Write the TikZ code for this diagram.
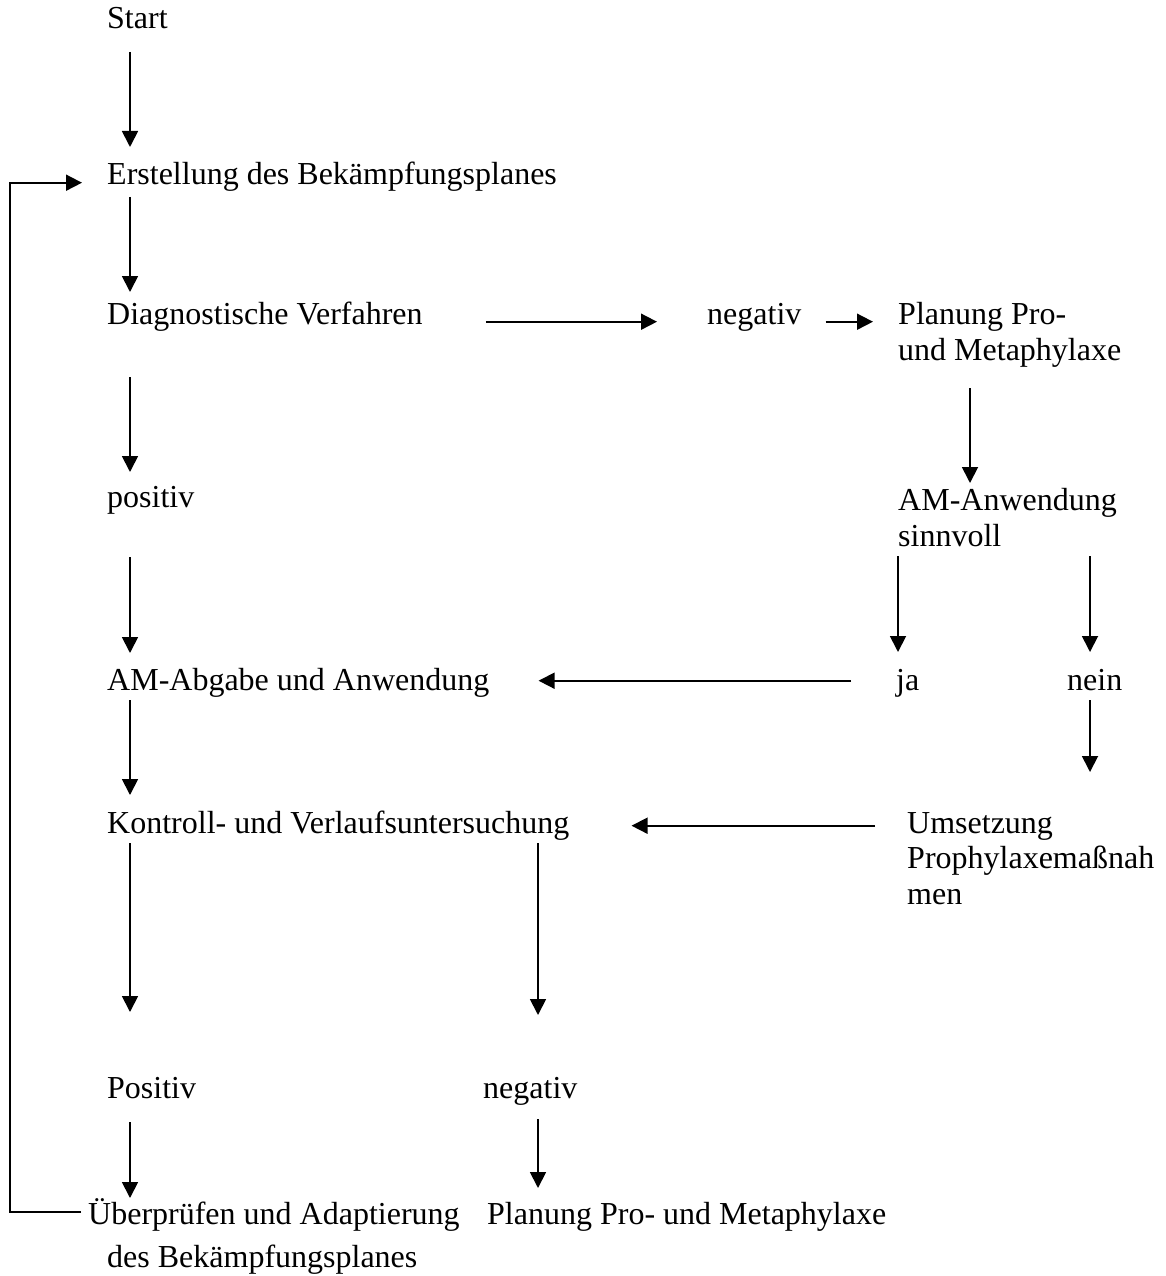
\documentclass[tikz,border=0pt]{standalone}
\usepackage{fontspec}
\setmainfont{Liberation Serif}
\usetikzlibrary{arrows.meta}

\begin{document}
\begin{tikzpicture}[x=1pt, y=-1pt,
	txt/.style={anchor=base west, inner sep=0pt, font=\fontsize{32}{36}\selectfont},
	arr/.style={line width=1.8pt, -{Triangle[length=16pt, width=16pt]}}]
	\useasboundingbox (0,0) rectangle (1165,1276);
	% columns of the arrows
	\coordinate (colA) at (10,0);
	\coordinate (colL) at (130,0);
	\coordinate (colM) at (538,0);
	\coordinate (colJ) at (898,0);
	\coordinate (colP) at (970,0);
	\coordinate (colN) at (1090,0);
	% texts
	\node[txt] (start) at (107,29) {Start};
	\node[txt] (erst) at (107,185) {Erstellung des Bekämpfungsplanes};
	\node[txt] (diag) at (107,324) {Diagnostische Verfahren};
	\node[txt] (negA) at (707,324) {negativ};
	\node[txt] (planA) at (898,324) {Planung Pro-};
	\node[txt] (planB) at (898,360) {und Metaphylaxe};
	\node[txt] (pos) at (107,507) {positiv};
	\node[txt] (anw) at (898,510) {AM-Anwendung};
	\node[txt] (sinn) at (898,546) {sinnvoll};
	\node[txt] (abg) at (107,690) {AM-Abgabe und Anwendung};
	\node[txt] (ja) at (896,690) {ja};
	\node[txt] (nein) at (1067,690) {nein};
	\node[txt] (kontr) at (107,833) {Kontroll- und Verlaufsuntersuchung};
	\node[txt] (ums) at (907,833) {Umsetzung};
	\node[txt] (prophA) at (907,868) {Prophylaxemaßnah};
	\node[txt] (prophB) at (907,904) {men};
	\node[txt] (posB) at (107,1098) {Positiv};
	\node[txt] (negB) at (483,1098) {negativ};
	\node[txt] (ueb) at (88,1224) {Überprüfen und Adaptierung};
	\node[txt] (uebB) at (107,1267) {des Bekämpfungsplanes};
	\node[txt] (planC) at (487,1224) {Planung Pro- und Metaphylaxe};
	% left column
	\draw[arr, shorten <=23pt, shorten >=38pt] (start.base -| colL) -- (erst.base -| colL);
	\draw[arr, shorten <=12pt, shorten >=32pt] (erst.base -| colL) -- (diag.base -| colL);
	\draw[arr, shorten <=53pt, shorten >=35pt] (diag.base -| colL) -- (pos.base -| colL);
	\draw[arr, shorten <=50pt, shorten >=37pt] (pos.base -| colL) -- (abg.base -| colL);
	\draw[arr, shorten <=10pt, shorten >=38pt] (abg.base -| colL) -- (kontr.base -| colL);
	\draw[arr, shorten <=10pt, shorten >=86pt] (kontr.base -| colL) -- (posB.base -| colL);
	\draw[arr, shorten <=24pt, shorten >=26pt] (posB.base -| colL) -- (ueb.base -| colL);
	% middle column
	\draw[arr, shorten <=10pt, shorten >=83pt] (kontr.base -| colM) -- (negB.base -| colM);
	\draw[arr, shorten <=21pt, shorten >=36pt] (negB.base -| colM) -- (planC.base -| colM);
	% right side
	\draw[arr, shorten <=63pt, shorten >=50pt] (diag.mid east) -- (negA.mid west);
	\draw[arr, shorten <=24pt, shorten >=25pt] (negA.mid east) -- (planA.mid west);
	\draw[arr, shorten <=28pt, shorten >=27pt] (planB.base -| colP) -- (anw.base -| colP);
	\draw[arr, shorten <=10pt, shorten >=38pt] (sinn.base -| colJ) -- (ja.base -| colJ);
	\draw[arr, shorten <=10pt, shorten >=38pt] (sinn.base -| colN) -- (nein.base -| colN);
	\draw[arr, shorten <=10pt, shorten >=61pt] (nein.base -| colN) -- (ums.base -| colN);
	\draw[arr, shorten <=45pt, shorten >=49pt] ([yshift=7pt]ja.mid west) -- ([yshift=7pt]abg.mid east);
	\draw[arr, shorten <=32pt, shorten >=62pt] ([yshift=5pt]ums.mid west) -- ([yshift=5pt]kontr.mid east);
	% back to the plan
	\draw[arr, shorten <=7pt, shorten >=25pt] ([yshift=10pt]ueb.mid west) -- ([yshift=10pt]ueb.mid west -| colA) |- (erst.mid west);
\end{tikzpicture}
\end{document}
